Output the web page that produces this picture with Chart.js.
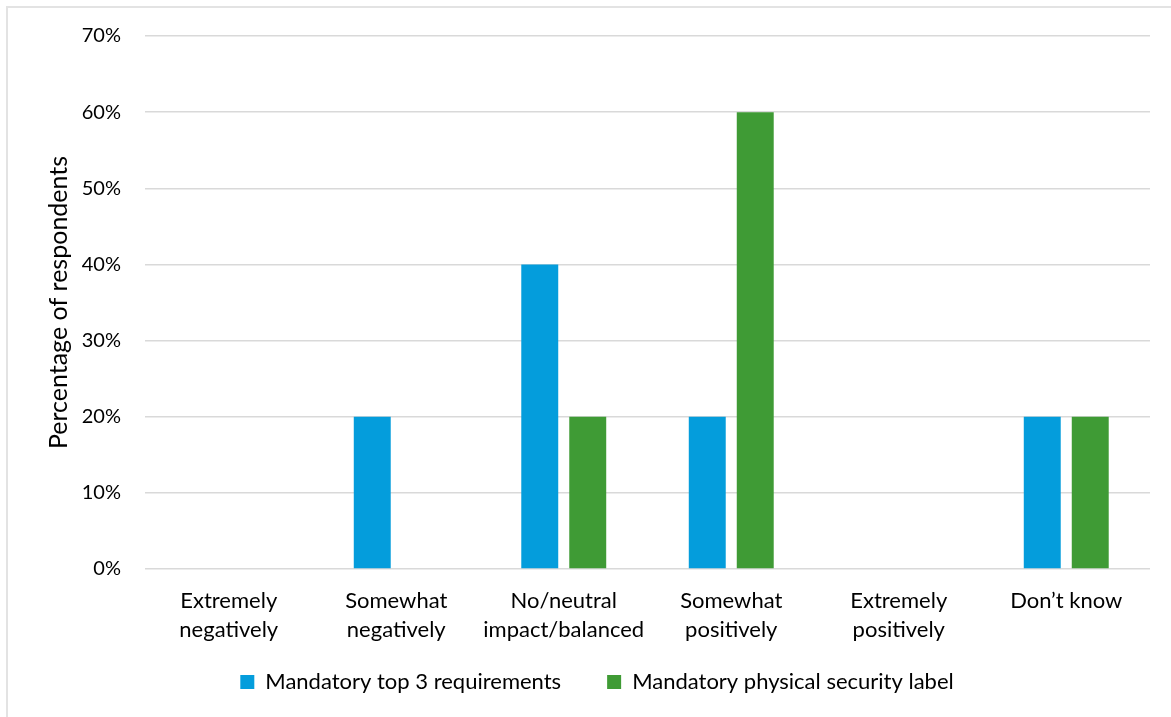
<!DOCTYPE html>
<html>
<head>
<meta charset="utf-8">
<script src="https://cdn.jsdelivr.net/npm/chart.js@4/dist/chart.umd.min.js"></script>
<style>
  html, body { margin: 0; padding: 0; background: #fff; overflow: hidden; }
  #wrap { position: relative; width: 1171px; height: 717px; }
  #frame { position: absolute; left: 6px; top: 6px; width: 1180px; height: 730px;
           border: 2px solid #e3e3e3; box-sizing: border-box; }
  canvas { position: absolute; left: 0; top: 0; }
</style>
</head>
<body>
<div id="wrap">
  <div id="frame"></div>
  <canvas id="c" width="1171" height="717"></canvas>
</div>
<script>
const categories = [
  ["Extremely", "negatively"],
  ["Somewhat", "negatively"],
  ["No/neutral", "impact/balanced"],
  ["Somewhat", "positively"],
  ["Extremely", "positively"],
  ["Don\u2019t know"]
];
const top3Requirements = [0, 20, 40, 20, 0, 20];
const physicalSecurityLabel = [0, 0, 20, 60, 0, 20];
const seriesNames = ["Mandatory top 3 requirements", "Mandatory physical security label"];
const yTicks = [0, 10, 20, 30, 40, 50, 60, 70];

const FONT = "Lato, 'Noto Sans', sans-serif";

new Chart(document.getElementById('c'), {
  type: 'bar',
  data: {
    labels: categories,
    datasets: [
      { label: seriesNames[0], data: top3Requirements, backgroundColor: '#049DDC' },
      { label: seriesNames[1], data: physicalSecurityLabel, backgroundColor: '#3F9B35' }
    ]
  },
  options: {
    responsive: false,
    animation: false,
    devicePixelRatio: 1,
    layout: { padding: { left: 44, right: 21, top: 26, bottom: 14 } },
    datasets: { bar: { categoryPercentage: 0.573, barPercentage: 0.77 } },
    plugins: {
      tooltip: { enabled: false },
      legend: {
        position: 'bottom',
        labels: {
          font: { family: FONT, size: 22 },
          color: '#000',
          boxWidth: 14,
          boxHeight: 14,
          padding: 46
        }
      }
    },
    scales: {
      x: {
        grid: { display: false, drawTicks: false },
        border: { display: false },
        ticks: {
          font: { family: FONT, size: 22, lineHeight: 1.32 },
          color: '#000',
          padding: 17,
          maxRotation: 0,
          autoSkip: false
        },
        afterFit: (s) => {
          s.height = 56;
          // two-line category labels may run below the axis box
          s._computeLabelArea = () => undefined;
        }
      },
      y: {
        min: 0,
        max: 70,
        afterBuildTicks: (s) => { s.ticks = yTicks.map(v => ({ value: v })); },
        grid: { color: '#d9d9d9', lineWidth: 1.5, drawTicks: false },
        border: { display: false },
        ticks: {
          font: { family: FONT, size: 20 },
          color: '#000',
          padding: 24,
          callback: (v) => v + '%'
        },
        title: {
          display: true,
          text: 'Percentage of respondents',
          font: { family: FONT, size: 25 },
          color: '#000',
          padding: { top: 0, bottom: 0 }
        },
        afterFit: (s) => { s.width = 101; }
      }
    }
  }
});
</script>
</body>
</html>
